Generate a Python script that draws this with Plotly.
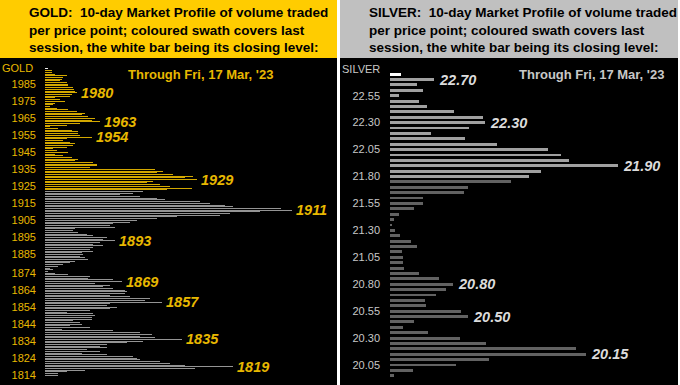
import plotly.graph_objects as go

W, H = 680, 385

# ---------------- DATA ----------------
# Gold: one bar per $1 price level, from 1994 (top) down to 1814
gold_top_price = 1994
gold_volume = [
    3, 7, 7, 10, 22, 18, 17, 15, 22, 23,          # 1994-1985
    23, 28, 29, 30, 32, 27, 25, 10, 15, 20,       # 1984-1975
    10, 8, 5, 12, 23, 32, 40, 37, 43, 50,         # 1974-1965
    47, 55, 35, 22, 5, 13, 27, 33, 33, 35,        # 1964-1955
    47, 22, 18, 25, 30, 28, 22, 8, 12, 23,        # 1954-1945
    10, 18, 27, 33, 30, 48, 52, 52, 45, 110,      # 1944-1935
    118, 112, 128, 148, 140, 152, 108, 102, 115, 125,  # 1934-1925
    147, 122, 98, 88, 75, 95, 112, 120, 155, 165,      # 1924-1915
    180, 188, 236, 247, 215, 185, 175, 132, 112, 92,   # 1914-1905
    85, 68, 65, 70, 30, 28, 33, 42, 48, 62,       # 1904-1895
    58, 70, 55, 48, 58, 48, 45, 48, 37, 38,       # 1894-1885
    35, 40, 43, 30, 25, 18, 13, 5, 8, 3,          # 1884-1875
    10, 23, 45, 43, 68, 77, 50, 65, 58, 68,       # 1874-1865
    80, 82, 80, 65, 85, 105, 100, 117, 65, 62,    # 1864-1855
    72, 65, 45, 22, 48, 50, 47, 47, 28, 35,       # 1854-1845
    37, 25, 45, 17, 68, 95, 107, 95, 110, 137,    # 1844-1835
    98, 82, 62, 55, 62, 42, 55, 37, 62, 88,       # 1834-1825
    92, 95, 115, 125, 140, 188, 150, 40, 22, 13,  # 1824-1815
    13,                                           # 1814
]
gold_prices = [gold_top_price - i for i in range(len(gold_volume))]
gold_close = 1994
gold_session_low = 1923          # last session's swath: 1923 .. 1994

gold_tick_labels = ["1985", "1975", "1965", "1955", "1945", "1935", "1925",
                    "1915", "1905", "1895", "1885", "1874", "1864", "1854",
                    "1844", "1834", "1824", "1814"]
gold_peaks = [1980, 1963, 1954, 1929, 1911, 1893, 1869, 1857, 1835, 1819]

# Silver: one bar per $0.05 price level, 22.75 (top) down to 19.95
silver_prices = [22.75, 22.70, 22.65, 22.60, 22.55, 22.50, 22.45, 22.40, 22.35, 22.30,
                 22.25, 22.20, 22.15, 22.10, 22.05, 22.00, 21.95, 21.90, 21.85, 21.80,
                 21.75, 21.70, 21.65, 21.60, 21.55, 21.50, 21.45, 21.40, 21.35, 21.30,
                 21.25, 21.20, 21.15, 21.10, 21.05, 21.00, 20.95, 20.90, 20.85, 20.80,
                 20.75, 20.70, 20.65, 20.60, 20.55, 20.50, 20.45, 20.40, 20.35, 20.30,
                 20.25, 20.20, 20.15, 20.10, 20.05, 20.00, 19.95]
silver_volume = [11, 44, 27, 33, 9, 29, 37, 64, 93, 95,
                 79, 41, 75, 107, 158, 171, 179, 228, 151, 139,
                 121, 78, 74, 33, 33, 24, 9, 4, 1.5, 5,
                 10, 21, 27, 12, 13, 13, 14, 29, 49, 63,
                 56, 46, 35, 36, 71, 78, 24, 13, 38, 70,
                 96, 186, 196, 99, 66, 23, 4]
silver_close = 22.75
silver_session_low = 21.80

silver_tick_labels = ["22.55", "22.30", "22.05", "21.80", "21.55", "21.30",
                      "21.05", "20.80", "20.55", "20.30", "20.05"]
silver_peaks = ["22.70", "22.30", "21.90", "20.80", "20.50", "20.15"]

# ---------------- STYLE ----------------
GOLD_HDR = "#FFCC00"
SILV_HDR = "#C0C0C0"
GOLD_TXT = "#E8B800"
GOLD_BAR = "rgba(214,170,0,0.99)"
GOLD_OLD = "rgba(150,150,150,0.99)"
GOLD_CLOSE = "rgba(242,242,242,0.99)"
SILV_TXT = "#C8C8C8"
SILV_LBL = "#DCDCDC"
SILV_BAR = "#A0A0A0"
SILV_OLD = "#626262"
FONT = "Arial, Liberation Sans, sans-serif"

def px_x(v):
    return v / W

def px_y(v):
    return 1 - v / H

gold_colors = []
for p in gold_prices:
    if p == gold_close:
        gold_colors.append(GOLD_CLOSE)
    elif p >= gold_session_low:
        gold_colors.append(GOLD_BAR)
    else:
        gold_colors.append(GOLD_OLD)

silver_colors = []
for p in silver_prices:
    if abs(p - silver_close) < 1e-9:
        silver_colors.append("#FFFFFF")
    elif p >= silver_session_low - 1e-9:
        silver_colors.append(SILV_BAR)
    else:
        silver_colors.append(SILV_OLD)

plot_top = 58
gold_px_per = 1.7017
gold_y_hi = 1985 + (84.3 - plot_top) / gold_px_per
gold_y_lo = 1814 - (H - 375.2) / gold_px_per
silv_px_per = 107.7
silv_y_hi = 22.55 + (95.7 - plot_top) / silv_px_per
silv_y_lo = 20.05 - (H - 365) / silv_px_per

fig = go.Figure()
fig.add_trace(go.Bar(
    x=gold_volume, y=gold_prices, orientation="h", width=1.0 / gold_px_per,
    marker=dict(color=gold_colors, line=dict(width=0)),
    xaxis="x", yaxis="y", hoverinfo="skip", showlegend=False))
fig.add_trace(go.Bar(
    x=silver_volume, y=silver_prices, orientation="h", width=0.027,
    marker=dict(color=silver_colors, line=dict(width=0)),
    xaxis="x2", yaxis="y2", hoverinfo="skip", showlegend=False))

fig.update_layout(
    width=W, height=H, margin=dict(l=0, r=0, t=0, b=0),
    paper_bgcolor="white", plot_bgcolor="black", bargap=0, bargroupgap=0,
    font=dict(family=FONT),
    xaxis=dict(domain=[px_x(45), px_x(337)], range=[0, 292], visible=False,
               fixedrange=True),
    yaxis=dict(domain=[0, px_y(plot_top)], range=[gold_y_lo, gold_y_hi],
               tickvals=[int(t) for t in gold_tick_labels], ticktext=gold_tick_labels,
               tickfont=dict(color=GOLD_TXT, size=11, family=FONT),
               showgrid=False, zeroline=False, showline=False, ticks="",
               ticklabelstandoff=8, anchor="x"),
    xaxis2=dict(domain=[px_x(390), px_x(678)], range=[0, 288], visible=False,
                anchor="y2"),
    yaxis2=dict(domain=[0, px_y(plot_top)], range=[silv_y_lo, silv_y_hi],
                tickvals=[float(t) for t in silver_tick_labels], ticktext=silver_tick_labels,
                tickfont=dict(color=SILV_TXT, size=11, family=FONT),
                showgrid=False, zeroline=False, showline=False, ticks="",
                ticklabelstandoff=9, anchor="x2"),
)

shapes = [
    dict(type="rect", xref="paper", yref="paper", x0=0, x1=px_x(337), y0=px_y(plot_top), y1=1,
         fillcolor=GOLD_HDR, line=dict(width=0), layer="below"),
    dict(type="rect", xref="paper", yref="paper", x0=px_x(340), x1=px_x(678), y0=px_y(plot_top), y1=1,
         fillcolor=SILV_HDR, line=dict(width=0), layer="below"),
    dict(type="rect", xref="paper", yref="paper", x0=0, x1=px_x(337), y0=0, y1=px_y(plot_top),
         fillcolor="black", line=dict(width=0), layer="below"),
    dict(type="rect", xref="paper", yref="paper", x0=px_x(340), x1=px_x(678), y0=0, y1=px_y(plot_top),
         fillcolor="black", line=dict(width=0), layer="below"),
]
fig.update_layout(shapes=shapes)

ann = []
hdr_tail = "10-day Market Profile of volume traded<br>per price point; coloured swath covers last<br>session, the white bar being its closing level:"
ann.append(dict(xref="paper", yref="paper", x=px_x(27), y=px_y(3), xanchor="left", yanchor="top",
                align="left", showarrow=False,
                text="GOLD:  " + hdr_tail,
                font=dict(family=FONT, size=13.5, color="black", weight="bold")))
ann.append(dict(xref="paper", yref="paper", x=px_x(367), y=px_y(3), xanchor="left", yanchor="top",
                align="left", showarrow=False,
                text="SILVER:  " + hdr_tail,
                font=dict(family=FONT, size=13.5, color="black", weight="bold")))
ann.append(dict(xref="paper", yref="paper", x=px_x(200), y=px_y(74), xanchor="center", yanchor="middle",
                showarrow=False, text="Through Fri, 17 Mar, '23",
                font=dict(family=FONT, size=13, color=GOLD_TXT, weight="bold")))
ann.append(dict(xref="paper", yref="paper", x=px_x(591), y=px_y(74), xanchor="center", yanchor="middle",
                showarrow=False, text="Through Fri, 17 Mar, '23",
                font=dict(family=FONT, size=13, color=SILV_TXT, weight="bold")))
ann.append(dict(xref="paper", yref="paper", x=px_x(35), y=px_y(68), xanchor="right", yanchor="middle",
                showarrow=False, text="GOLD",
                font=dict(family=FONT, size=11, color=GOLD_TXT)))
ann.append(dict(xref="paper", yref="paper", x=px_x(382), y=px_y(69), xanchor="right", yanchor="middle",
                showarrow=False, text="SILVER",
                font=dict(family=FONT, size=11, color=SILV_TXT)))

for p in gold_peaks:
    v = gold_volume[gold_prices.index(p)]
    ann.append(dict(xref="x", yref="y", x=v + 2, y=p, xanchor="left", yanchor="middle",
                    showarrow=False, text=str(p),
                    font=dict(family=FONT, size=14.5, color=GOLD_TXT, weight="bold", style="italic")))
for s in silver_peaks:
    p = float(s)
    i = min(range(len(silver_prices)), key=lambda k: abs(silver_prices[k] - p))
    v = silver_volume[i]
    ann.append(dict(xref="x2", yref="y2", x=v + 3, y=p, xanchor="left", yanchor="middle",
                    showarrow=False, text=s,
                    font=dict(family=FONT, size=14.5, color=SILV_LBL, weight="bold", style="italic")))
fig.update_layout(annotations=ann)

fig.write_html("out.html", config={"displayModeBar": False},
               post_script="document.body.style.margin='0';document.body.style.overflow='hidden';")
